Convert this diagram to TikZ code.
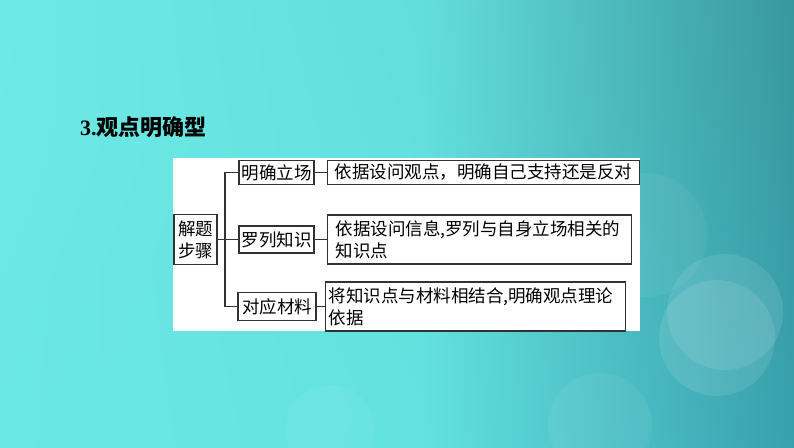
\documentclass[tikz,border=0pt]{standalone}
\usepackage{fontspec}
\usetikzlibrary{shadings}
\setmainfont{Liberation Serif}
\newfontfamily\cjk{Noto Sans CJK SC}
\definecolor{bgla}{RGB}{110,233,230}
\definecolor{bglb}{RGB}{106,232,228}
\definecolor{bgma}{RGB}{100,222,221}
\definecolor{bgmb}{RGB}{98,226,224}
\definecolor{bgra}{RGB}{56,152,157}
\definecolor{bgrb}{RGB}{56,160,174}
\definecolor{linegray}{RGB}{50,50,50}
\begin{document}
\begin{tikzpicture}[x=1pt,y=-1pt]
  \tikzstyle{box}=[draw=linegray, line width=1.2pt, inner sep=0pt, fill=white, font=\cjk\fontsize{17.5}{22}\selectfont]
  \tikzstyle{stepbox}=[box, minimum width=75pt, minimum height=24pt]
  \tikzstyle{textbox}=[box, anchor=west, align=left]
  \tikzstyle{bokeh}=[fill=white, opacity=0.1]
  \tikzstyle{link}=[draw=linegray, line width=1.2pt]

  \clip (0,0) rectangle (794,447);
  \shade[upper left=bgla, upper right=bgma, lower left=bglb, lower right=bgmb] (0,0) rectangle (421,447);
  \shade[upper left=bgma, upper right=bgra, lower left=bgmb, lower right=bgrb] (420,0) rectangle (794,447);
  \fill[bokeh] (725,312) circle (58);
  \fill[bokeh] (717,338) circle (58);
  \fill[bokeh, opacity=0.05] (645,235) circle (62);
  \fill[bokeh, opacity=0.06] (600,425) circle (52);
  \fill[bokeh, opacity=0.05] (330,430) circle (45);

  \node[anchor=west, inner sep=0pt] (title) at (80,127) {\fontsize{22}{26}\selectfont\textbf{3.}{\cjk\bfseries 观点明确型}};
  \fill[white] (173,158) rectangle (640,331);

  \node[box, minimum width=43pt, minimum height=50pt, align=center] (root)  at (195.5,239.5) {解题\\步骤};
  \node[stepbox]                                                    (stand) at (276.5,172.5) {明确立场};
  \node[stepbox, minimum height=27pt]                               (know)  at (276.5,239.5) {罗列知识};
  \node[stepbox, minimum width=78pt, minimum height=28pt]           (match) at (277,306.5)   {对应材料};

  \node[textbox, minimum width=312pt, minimum height=24pt, inner xsep=3pt] (t1) at (327,172.5) {依据设问观点，明确自己支持还是反对};
  \node[textbox, text width=288pt, minimum height=49pt, inner xsep=8pt]    (t2) at (327,239.5) {依据设问信息,罗列与自身立场相关的\\知识点};
  \node[textbox, text width=294pt, minimum height=49pt, inner xsep=3pt]    (t3) at (325,306.5) {将知识点与材料相结合,明确观点理论\\依据};

  \coordinate (trunk) at (225,239.5);

  \draw[link] (root) -- (know);
  \draw[link] (stand.west) -| (trunk) |- (match.west);
  \draw[link] (stand) -- (t1);
  \draw[link] (know) -- (t2);
  \draw[link] (match) -- (t3);
\end{tikzpicture}
\end{document}
